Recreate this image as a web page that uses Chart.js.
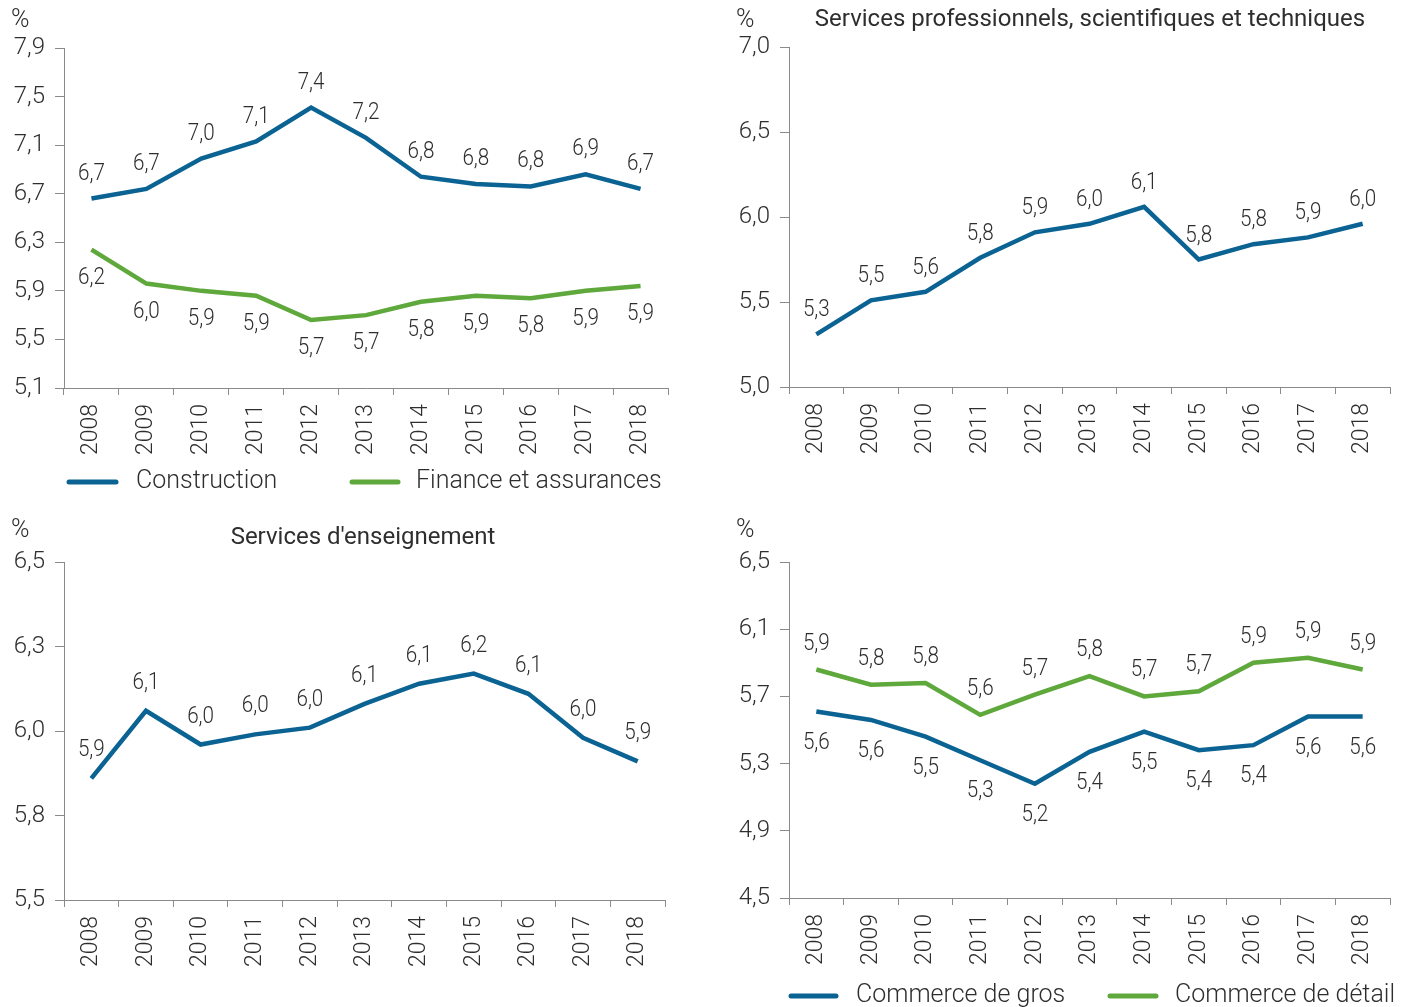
<!DOCTYPE html>
<html>
<head>
<meta charset="utf-8">
<script src="https://cdn.jsdelivr.net/npm/chart.js@4.4.1/dist/chart.umd.min.js"></script>
<style>
  html, body { margin: 0; padding: 0; background: #fff; }
  #wrap { position: relative; width: 1410px; height: 1007px; overflow: hidden; }
  canvas { position: absolute; }
</style>
</head>
<body>
<div id="wrap">
  <canvas id="c1" width="705" height="503" style="left:0;top:0"></canvas>
  <canvas id="c2" width="705" height="503" style="left:705px;top:0"></canvas>
  <canvas id="c3" width="705" height="504" style="left:0;top:503px"></canvas>
  <canvas id="c4" width="705" height="504" style="left:705px;top:503px"></canvas>
</div>
<script>
// years on the x axis
const years = ['2008', '2009', '2010', '2011', '2012', '2013', '2014', '2015', '2016', '2017', '2018'];

// top left
const construction = [6.66, 6.74, 6.99, 7.13, 7.41, 7.16, 6.84, 6.78, 6.76, 6.86, 6.74];
const finance = [6.24, 5.96, 5.90, 5.86, 5.66, 5.70, 5.81, 5.86, 5.84, 5.90, 5.94];
// top right
const servicesPro = [5.31, 5.51, 5.56, 5.76, 5.91, 5.96, 6.06, 5.75, 5.84, 5.88, 5.96];
// bottom left
const enseignement = [5.86, 6.06, 5.96, 5.99, 6.01, 6.08, 6.14, 6.17, 6.11, 5.98, 5.91];
// bottom right
const commerceGros = [5.61, 5.56, 5.46, 5.32, 5.18, 5.37, 5.49, 5.38, 5.41, 5.58, 5.58];
const commerceDetail = [5.86, 5.77, 5.78, 5.59, 5.71, 5.82, 5.70, 5.73, 5.90, 5.93, 5.86];

const BLUE = '#0b6393';
const GREEN = '#5ea83c';
const TXT = '#2e2e2e';
const AXIS = '#8a8a8a';
const FONT = 'Roboto, "Liberation Sans", sans-serif';

const fmt = v => Number(v).toFixed(1).replace('.', ',');

// labels, titles, the % sign and the legend
const extras = {
  id: 'extras',
  afterDatasetsDraw(chart, args, o) {
    const ctx = chart.ctx;
    chart.data.datasets.forEach((ds, i) => {
      const meta = chart.getDatasetMeta(i);
      meta.data.forEach((pt, j) => {
        ctx.save();
        ctx.translate(pt.x, pt.y + ds.labelOffset);
        ctx.scale(0.86, 1);
        ctx.font = '300 24px ' + FONT;
        ctx.fillStyle = TXT;
        ctx.textAlign = 'center';
        ctx.textBaseline = 'middle';
        ctx.fillText(fmt(ds.data[j]), 0, 0);
        ctx.restore();
      });
    });

    ctx.save();
    ctx.fillStyle = TXT;
    ctx.textBaseline = 'middle';
    ctx.font = '300 25px ' + FONT;
    ctx.textAlign = 'left';
    ctx.fillText('%', o.pctX, o.pctY);
    if (o.title) {
      ctx.font = '400 24px ' + FONT;
      ctx.textAlign = 'center';
      ctx.fillText(o.title, o.titleX, o.titleY);
    }
    if (o.legend) {
      o.legend.forEach((lg, i) => {
        const ds = chart.data.datasets[i];
        ctx.strokeStyle = ds.borderColor;
        ctx.lineWidth = 5;
        ctx.lineCap = 'round';
        ctx.beginPath();
        ctx.moveTo(lg.x0, o.legendY);
        ctx.lineTo(lg.x1, o.legendY);
        ctx.stroke();
        ctx.font = '300 25px ' + FONT;
        ctx.textAlign = 'left';
        ctx.fillText(ds.label, lg.tx, o.legendY);
      });
    }
    ctx.restore();
  }
};

function makeChart(id, datasets, yMin, yMax, step, box, extra) {
  return new Chart(document.getElementById(id), {
    type: 'line',
    data: {
      labels: years,
      datasets: datasets.map(d => ({
        label: d.label,
        data: d.data,
        borderColor: d.color,
        backgroundColor: d.color,
        borderWidth: 4.5,
        pointRadius: 0,
        tension: 0,
        fill: false,
        labelOffset: d.offset
      }))
    },
    options: {
      responsive: false,
      animation: false,
      devicePixelRatio: 1,
      layout: { padding: { left: 0, top: box.top, right: box.right, bottom: 0 } },
      plugins: {
        legend: { display: false },
        tooltip: { enabled: false },
        extras: extra
      },
      scales: {
        x: {
          offset: true,
          grid: { offset: true, drawOnChartArea: false, drawTicks: true, tickLength: 7, color: AXIS },
          border: { color: AXIS, width: 1 },
          ticks: {
            color: TXT, font: { family: FONT, size: 23, weight: '300' },
            minRotation: 90, maxRotation: 90, padding: 9, autoSkip: false
          },
          afterFit: s => { s.height = box.xh; }
        },
        y: {
          min: yMin, max: yMax,
          grid: { drawOnChartArea: false, drawTicks: true, tickLength: 9, color: AXIS },
          border: { color: AXIS, width: 1 },
          ticks: {
            stepSize: step, color: TXT, padding: 10,
            font: { family: FONT, size: 24, weight: '300' },
            callback: v => fmt(v)
          },
          afterFit: s => { s.width = box.yw; }
        }
      }
    },
    plugins: [extras]
  });
}

makeChart('c1', [
  { label: 'Construction', data: construction, color: BLUE, offset: -25 },
  { label: 'Finance et assurances', data: finance, color: GREEN, offset: 28 }
], 5.1, 7.9, 0.4, { top: 48, right: 37, yw: 64, xh: 115 }, {
  pctX: 11, pctY: 21,
  legendY: 482,
  legend: [{ x0: 69, x1: 116, tx: 136 }, { x0: 352, x1: 398, tx: 416 }]
});

makeChart('c2', [
  { label: 'Services professionnels, scientifiques et techniques', data: servicesPro, color: BLUE, offset: -24 }
], 5.0, 7.0, 0.5, { top: 47, right: 20, yw: 84, xh: 116 }, {
  pctX: 31, pctY: 21,
  title: 'Services professionnels, scientifiques et techniques', titleX: 385, titleY: 20
});

makeChart('c3', [
  { label: "Services d'enseignement", data: enseignement, color: BLUE, offset: -28 }
], 5.5, 6.5, 0.25, { top: 59, right: 40, yw: 64, xh: 107 }, {
  pctX: 11, pctY: 28,
  title: "Services d'enseignement", titleX: 363, titleY: 35
});

makeChart('c4', [
  { label: 'Commerce de gros', data: commerceGros, color: BLUE, offset: 31 },
  { label: 'Commerce de détail', data: commerceDetail, color: GREEN, offset: -26 }
], 4.5, 6.5, 0.4, { top: 59, right: 20, yw: 84, xh: 109 }, {
  pctX: 31, pctY: 28,
  legendY: 493,
  legend: [{ x0: 86, x1: 131, tx: 151 }, { x0: 405, x1: 451, tx: 470 }]
});
</script>
</body>
</html>
